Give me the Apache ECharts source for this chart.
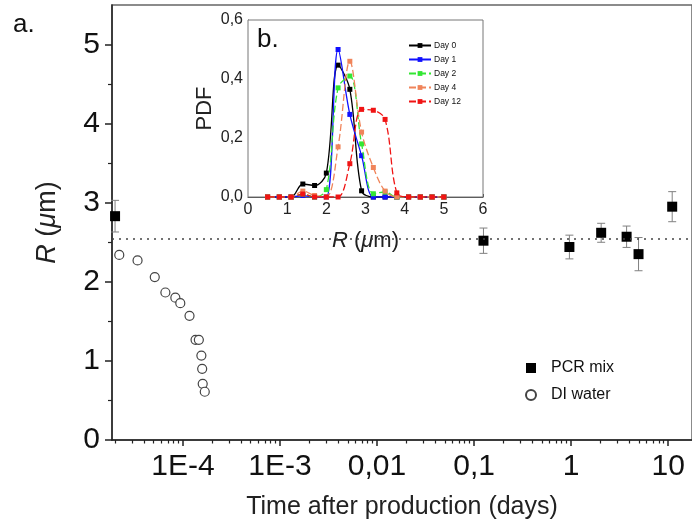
<!DOCTYPE html>
<html>
<head>
<meta charset="utf-8">
<script src="https://cdn.jsdelivr.net/npm/echarts@6/dist/echarts.min.js"></script>
<style>
html,body{margin:0;padding:0;background:#fff;}
#chart{width:692px;height:529px;}
</style>
</head>
<body>
<div id="chart"></div>
<script>
// ---- Main panel data ----
const pcrTime = [2.0e-5, 0.125, 0.96, 2.04, 3.73, 4.95, 11];
const pcrR    = [2.83, 2.52, 2.44, 2.62, 2.57, 2.35, 2.95];
const pcrErr  = [0.20, 0.16, 0.15, 0.12, 0.135, 0.21, 0.19];
const diTime  = [2.21e-5, 3.41e-5, 5.13e-5, 6.6e-5, 8.36e-5, 9.4e-5, 1.17e-4, 1.35e-4, 1.46e-4, 1.55e-4, 1.58e-4, 1.6e-4, 1.68e-4];
const diR     = [2.34, 2.27, 2.06, 1.865, 1.80, 1.73, 1.57, 1.266, 1.266, 1.067, 0.90, 0.71, 0.61];
const refLine = 2.55;
const xMajorTicks = [1e-4, 1e-3, 0.01, 0.1, 1, 10];
const xMajorLabels = ['1E-4', '1E-3', '0,01', '0,1', '1', '10'];
const yTicks = [0, 1, 2, 3, 4, 5];

// ---- Inset data ----
const binR  = [0.5, 0.8, 1.1, 1.4, 1.7, 2.0, 2.3, 2.6, 2.9, 3.2, 3.5, 3.8, 4.1, 4.4, 4.7, 5.0];
const day0  = [0, 0, 0, 0.044, 0.039, 0.081, 0.447, 0.365, 0.021, 0, 0, 0, 0, 0, 0, 0];
const day1  = [0, 0, 0, 0.005, 0, 0, 0.50, 0.28, 0.14, 0, 0, 0, 0, 0, 0, 0];
const day2  = [0, 0, 0, 0.01, 0, 0.025, 0.37, 0.41, 0.18, 0.011, 0.017, 0, 0, 0, 0, 0];
const day4  = [0, 0, 0, 0.02, 0.005, 0, 0.17, 0.46, 0.22, 0.10, 0.02, 0, 0, 0, 0, 0];
const day12 = [0, 0, 0, 0.01, 0, 0, 0, 0.113, 0.297, 0.294, 0.263, 0.014, 0, 0, 0, 0];
const dayNames = ['Day 0', 'Day 1', 'Day 2', 'Day 4', 'Day 12'];
const dayColors = ['#000000', '#1010ff', '#33e633', '#f0845a', '#f01414'];
const dayDashed = [false, false, true, true, true];

const FONT = 'Liberation Sans, Arial, sans-serif';

// minor ticks for the log axis (2..9 of each decade)
const xMinorTicks = [];
for (let d = -5; d <= 1; d++) {
  for (let m = 2; m <= 9; m++) xMinorTicks.push(+(m * Math.pow(10, d)).toPrecision(3));
}

const chart = echarts.init(document.getElementById('chart'), null, {renderer: 'canvas'});

function renderErr(params, api) {
  const x = api.value(0), y = api.value(1), e = api.value(2);
  const top = api.coord([x, y + e]);
  const bot = api.coord([x, y - e]);
  const hw = 4;
  const st = {stroke: '#808080', lineWidth: 1};
  return {type: 'group', children: [
    {type: 'line', shape: {x1: top[0], y1: top[1], x2: bot[0], y2: bot[1]}, style: st},
    {type: 'line', shape: {x1: top[0] - hw, y1: top[1], x2: top[0] + hw, y2: top[1]}, style: st},
    {type: 'line', shape: {x1: bot[0] - hw, y1: bot[1], x2: bot[0] + hw, y2: bot[1]}, style: st}
  ]};
}

const insetSeries = dayNames.map((n, i) => ({
  name: n,
  type: 'line',
  xAxisIndex: 2,
  yAxisIndex: 1,
  smooth: 0.35,
  symbol: 'rect',
  symbolSize: 5,
  data: binR.map((r, k) => [r, [day0, day1, day2, day4, day12][i][k]]),
  itemStyle: {color: dayColors[i]},
  lineStyle: {color: dayColors[i], width: 1.3, type: dayDashed[i] ? [7, 3] : 'solid'},
  z: 5 + i
}));

const option = {
  backgroundColor: '#fff',
  animation: false,
  textStyle: {fontFamily: FONT},
  grid: [
    {left: 112, top: 5, right: -3, bottom: 89, show: true, borderColor: '#666', borderWidth: 1.5, containLabel: false},
    {left: 248, top: 20, right: 209, bottom: 332, show: true, borderColor: '#777', borderWidth: 1, backgroundColor: '#fff', z: 3}
  ],
  xAxis: [
    {
      type: 'log', gridIndex: 0, min: 1.86e-5, max: 17.6,
      name: 'Time after production (days)', nameLocation: 'middle', nameGap: 55,
      nameTextStyle: {fontSize: 25, color: '#222', fontFamily: FONT},
      axisLine: {show: true, onZero: false, lineStyle: {color: '#222', width: 1.5}},
      axisTick: {show: true, inside: false, length: 6, customValues: xMajorTicks, lineStyle: {color: '#222', width: 1.5}},
      axisLabel: {show: true, customValues: xMajorTicks, margin: 12, fontSize: 30, color: '#111', fontFamily: FONT,
        formatter: v => { const i = xMajorTicks.findIndex(t => Math.abs(Math.log10(t) - Math.log10(v)) < 1e-6); return i >= 0 ? xMajorLabels[i] : ''; }},
      splitLine: {show: false}, minorTick: {show: false}
    },
    {
      type: 'log', gridIndex: 0, min: 1.86e-5, max: 17.6, position: 'bottom',
      axisLine: {show: false},
      axisTick: {show: true, inside: false, length: 3.5, customValues: xMinorTicks, lineStyle: {color: '#222', width: 1.2}},
      axisLabel: {show: false}, splitLine: {show: false}
    },
    {
      type: 'value', gridIndex: 1, min: 0, max: 6, interval: 1,
      name: '{s|}{i|R} ({i|μ}m){s|}', nameLocation: 'middle', nameGap: 33,
      nameTextStyle: {fontSize: 22, color: '#222', backgroundColor: '#fff',
        rich: {
          i: {fontStyle: 'italic', fontSize: 22, color: '#222', backgroundColor: '#fff'},
          s: {width: 36, height: 20, backgroundColor: '#fff'}
        }},
      axisLine: {show: true, onZero: false, lineStyle: {color: '#444', width: 1}},
      axisTick: {show: true, inside: true, length: 3, lineStyle: {color: '#444'}},
      axisLabel: {fontSize: 16, color: '#222', margin: 5},
      splitLine: {show: false}
    }
  ],
  yAxis: [
    {
      type: 'value', gridIndex: 0, min: 0, max: 5.5, interval: 1,
      name: '{i|R} ({i|μ}m)', nameLocation: 'middle', nameGap: 51, nameRotate: 90,
      nameTextStyle: {fontSize: 27, color: '#222', rich: {i: {fontStyle: 'italic', fontSize: 27, color: '#222'}}},
      axisLine: {show: true, onZero: false, lineStyle: {color: '#222', width: 1.5}},
      axisTick: {show: true, inside: false, length: 7, customValues: yTicks, lineStyle: {color: '#222', width: 1.5}},
      minorTick: {show: true, splitNumber: 2, length: 4, lineStyle: {color: '#222', width: 1.2}},
      axisLabel: {customValues: yTicks, fontSize: 30, color: '#111', margin: 12, fontFamily: FONT},
      splitLine: {show: false}
    },
    {
      type: 'value', gridIndex: 1, min: 0, max: 0.6, interval: 0.2,
      name: 'PDF', nameLocation: 'middle', nameGap: 32, nameRotate: 90,
      nameTextStyle: {fontSize: 22, color: '#222'},
      axisLine: {show: true, onZero: false, lineStyle: {color: '#444', width: 1}},
      axisTick: {show: true, inside: true, length: 3, lineStyle: {color: '#444'}},
      axisLabel: {fontSize: 16, color: '#222', margin: 5, formatter: v => v.toFixed(1).replace('.', ',')},
      splitLine: {show: false}
    }
  ],
  legend: [
    {
      data: [{name: 'PCR mix', icon: 'rect'}, {name: 'DI water', icon: 'circle'}],
      orient: 'vertical', left: 520, top: 355, itemWidth: 10, itemHeight: 10, itemGap: 11,
      textStyle: {fontSize: 16, color: '#111', padding: [0, 0, 0, 10]}
    },
    {
      data: dayNames,
      orient: 'vertical', left: 403, top: 36, itemWidth: 22, itemHeight: 6, itemGap: 5,
      textStyle: {fontSize: 8.5, color: '#111', padding: [0, 0, 0, -2]}, z: 10
    }
  ],
  graphic: [
    {type: 'text', left: 13, top: 12, style: {text: 'a.', fontSize: 26, fill: '#111', fontFamily: FONT}},
    {type: 'text', left: 257, top: 27, z: 20, style: {text: 'b.', fontSize: 26, fill: '#111', fontFamily: FONT}}
  ],
  series: [
    {
      name: 'PCR err', type: 'custom', xAxisIndex: 0, yAxisIndex: 0,
      renderItem: renderErr, encode: {x: 0, y: 1},
      data: pcrTime.map((t, i) => [t, pcrR[i], pcrErr[i]]), z: 2, silent: true
    },
    {
      name: 'PCR mix', type: 'scatter', xAxisIndex: 0, yAxisIndex: 0,
      symbol: 'rect', symbolSize: 10,
      itemStyle: {color: '#000', opacity: 1},
      data: pcrTime.map((t, i) => [t, pcrR[i]]), z: 3,
      markLine: {
        silent: true, symbol: ['none', 'none'], label: {show: false},
        lineStyle: {color: '#444', type: [2, 5], width: 1.5},
        data: [{yAxis: refLine}]
      }
    },
    {
      name: 'DI water', type: 'scatter', xAxisIndex: 0, yAxisIndex: 0,
      symbol: 'circle', symbolSize: 9,
      itemStyle: {color: '#fff', borderColor: '#444', borderWidth: 1.2, opacity: 1},
      data: diTime.map((t, i) => [t, diR[i]]), z: 3
    },
    ...insetSeries
  ]
};

chart.setOption(option);
</script>
</body>
</html>
